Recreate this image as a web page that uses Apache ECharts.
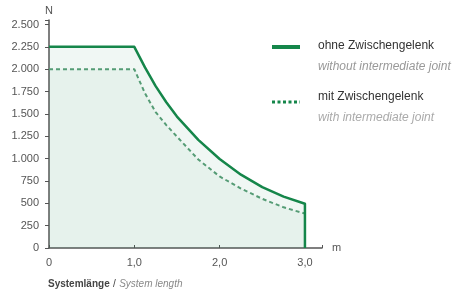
<!DOCTYPE html>
<html>
<head>
<meta charset="utf-8">
<script src="https://cdn.jsdelivr.net/npm/echarts@6/dist/echarts.min.js"></script>
<style>
html, body { margin: 0; padding: 0; background: #fff; }
#chart { width: 462px; height: 291px; }
</style>
</head>
<body>
<div id="chart"></div>
<script>
// system length in m
var lengths = [0, 1.0, 1.125, 1.25, 1.375, 1.5, 1.75, 2.0, 2.25, 2.5, 2.75, 3.0];
// force in N, without intermediate joint
var forceWithout = [2250, 2250, 2020, 1810, 1630, 1470, 1210, 995, 820, 680, 575, 495];
// force in N, with intermediate joint
var forceWith = [2000, 2000, 1730, 1520, 1375, 1245, 990, 800, 665, 550, 455, 385];
var yTicks = ['0', '250', '500', '750', '1.000', '1.250', '1.500', '1.750', '2.000', '2.250', '2.500'];
var xTicks = ['0', '1,0', '2,0', '3,0'];

var green = '#15864a';
var font = 'Liberation Sans, Arial, sans-serif';

function pairs(xs, ys) {
    var out = [];
    for (var i = 0; i < xs.length; i++) out.push([xs[i], ys[i]]);
    return out;
}
var solidData = pairs(lengths, forceWithout);
solidData.push([3.0, 0]);
var dashData = pairs(lengths, forceWith);

var chart = echarts.init(document.getElementById('chart'));
var option = {
    animation: false,
    grid: { left: 49, right: 140, top: 20, bottom: 43 },
    xAxis: {
        type: 'value', min: 0, max: 3.2, interval: 1,
        name: 'm', nameGap: 10,
        nameTextStyle: { color: '#555', fontSize: 11, fontFamily: font, verticalAlign: 'middle' },
        axisLine: { lineStyle: { color: '#555', width: 1.5 } },
        axisTick: { inside: true, length: 3, lineStyle: { color: '#555' } },
        splitLine: { show: false },
        axisLabel: {
            color: '#555', fontSize: 11, fontFamily: font, margin: 9,
            formatter: function (v) {
                var i = Math.round(v);
                return Math.abs(v - i) < 1e-6 ? xTicks[i] : '';
            }
        }
    },
    yAxis: {
        type: 'value', min: 0, max: 2550, interval: 250,
        name: 'N', nameGap: 4,
        nameTextStyle: { color: '#555', fontSize: 11, fontFamily: font, align: 'center' },
        axisLine: { show: true, lineStyle: { color: '#555', width: 1.5 } },
        axisTick: { show: true, length: 4, lineStyle: { color: '#555' } },
        splitLine: { show: false },
        axisLabel: {
            color: '#555', fontSize: 11, fontFamily: font, margin: 10,
            formatter: function (v) {
                var i = Math.round(v / 250);
                return Math.abs(v - i * 250) < 1e-6 && i < yTicks.length ? yTicks[i] : '';
            }
        }
    },
    series: [
        {
            type: 'line', data: solidData, symbol: 'none',
            lineStyle: { color: green, width: 2.5, join: 'round' },
            areaStyle: { color: 'rgba(21,134,74,0.09)' },
            z: 3
        },
        {
            type: 'line', data: dashData, symbol: 'none',
            lineStyle: { color: '#5a9e78', width: 2, type: [4, 3] },
            areaStyle: { color: 'rgba(21,134,74,0.06)' },
            z: 2
        }
    ],
    graphic: [
        { type: 'line', shape: { x1: 272, y1: 47, x2: 300, y2: 47 }, style: { stroke: green, lineWidth: 4 } },
        { type: 'text', left: 318, top: 40, style: { text: 'ohne Zwischengelenk', fill: '#333', font: '12px ' + font } },
        { type: 'text', left: 318, top: 61, style: { text: 'without intermediate joint', fill: '#999', font: 'italic 12px ' + font } },
        { type: 'line', shape: { x1: 272, y1: 102, x2: 300, y2: 102 }, style: { stroke: green, lineWidth: 3, lineDash: [3, 2.5] } },
        { type: 'text', left: 318, top: 91, style: { text: 'mit Zwischengelenk', fill: '#333', font: '12px ' + font } },
        { type: 'text', left: 318, top: 112, style: { text: 'with intermediate joint', fill: '#aaa', font: 'italic 12px ' + font } },
        {
            type: 'text', left: 48, top: 278,
            style: {
                text: '{b|Systemlänge} {r|/} {i|System length}',
                rich: {
                    b: { fill: '#444', fontWeight: 'bold', fontSize: 10, fontFamily: font },
                    r: { fill: '#444', fontSize: 10, fontFamily: font },
                    i: { fill: '#888', fontStyle: 'italic', fontSize: 10, fontFamily: font }
                }
            }
        }
    ]
};
chart.setOption(option);
</script>
</body>
</html>
